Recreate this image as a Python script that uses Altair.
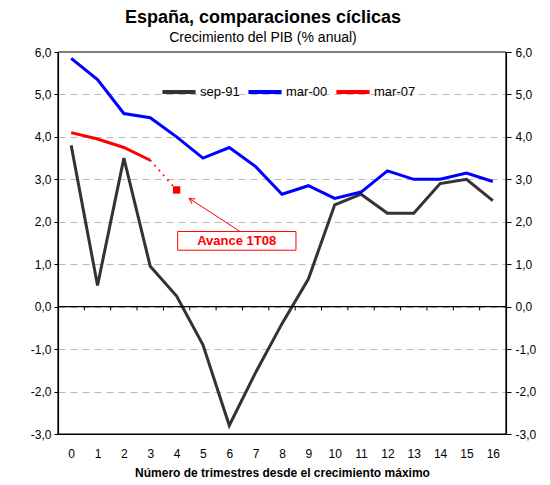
import altair as alt
import pandas as pd

# ---- data ----
quarters = list(range(17))
sep91 = [3.8, 0.5, 3.5, 0.95, 0.25, -0.9, -2.8, -1.55, -0.4, 0.65, 2.4, 2.65, 2.2, 2.2, 2.9, 3.0, 2.5]
mar00 = [5.85, 5.35, 4.55, 4.45, 4.0, 3.5, 3.75, 3.3, 2.65, 2.85, 2.55, 2.7, 3.2, 3.0, 3.0, 3.15, 2.95]
mar07 = [4.1, 3.95, 3.75, 3.45]
adv_x = [3, 4]
adv_y = [3.45, 2.75]
series_names = ["sep-91", "mar-00", "mar-07"]
series_colors = ["#333333", "#0000ff", "#ff0000"]
y_ticks = [-3, -2, -1, 0, 1, 2, 3, 4, 5, 6]
annot_text = "Avance 1T08"
arrow_from = (6.41, 1.77)
arrow_to = (4.48, 2.55)
box = (4.04, 8.53, 1.33, 1.77)
text_pos = (6.28, 1.54)

FONT = "Liberation Sans"
rows = []
for name, vals in zip(series_names, [sep91, mar00, mar07]):
    for q, v in zip(quarters, vals):
        rows.append({"q": q, "v": v, "serie": name})
df = pd.DataFrame(rows)

x_dom = [-0.5, 16.5]
y_dom = [-3, 6]
xscale = alt.Scale(domain=x_dom, nice=False, zero=False)
yscale = alt.Scale(domain=y_dom, nice=False, zero=False)
lab = "replace(replace(format(datum.value, '.1f'), '.', ','), '\u2212', '-')"


def X(field):
    return alt.X(field, scale=xscale, axis=None)


def Y(field):
    return alt.Y(field, scale=yscale, axis=None)


x_main = alt.X("q:Q", scale=xscale,
               axis=alt.Axis(values=quarters, ticks=False, grid=False, domainColor="#000000",
                             domainWidth=1.2,
                             labelFont=FONT, labelFontSize=12, labelColor="#000000",
                             labelPadding=14, labelFlush=False, labelOverlap=False,
                             title="Número de trimestres desde el crecimiento máximo",
                             titleFont=FONT, titleFontSize=12, titleFontWeight="bold",
                             titleColor="#000000", titlePadding=8))
y_left = alt.Y("v:Q", scale=yscale,
               axis=alt.Axis(values=y_ticks, grid=True, gridDash=[7, 5], gridColor="#b8b8b8",
                             domainColor="#000000", domainWidth=1.2, tickColor="#000000", tickSize=4,
                             labelExpr=lab, labelFont=FONT, labelFontSize=12,
                             labelColor="#000000", labelPadding=3, title=None))

lines = alt.Chart(df).mark_line(strokeWidth=3).encode(
    x=x_main, y=y_left,
    color=alt.Color("serie:N", scale=alt.Scale(domain=series_names, range=series_colors),
                    sort=series_names,
                    legend=alt.Legend(orient="none", legendX=102, legendY=21, direction="horizontal",
                                      title=None, symbolType="stroke", symbolSize=1100,
                                      symbolStrokeWidth=4, labelFont=FONT, labelFontSize=13,
                                      labelColor="#000000", labelOffset=2, columnPadding=0,
                                      padding=0)),
)

adv_df = pd.DataFrame({"q": adv_x, "v": adv_y})
dotted = alt.Chart(adv_df).mark_line(color="#ff0000", strokeWidth=2, strokeDash=[1.5, 5]).encode(
    x=X("q:Q"), y=Y("v:Q"))
square = alt.Chart(adv_df.iloc[[1]]).mark_square(color="#ff0000", size=55, opacity=1).encode(
    x=X("q:Q"), y=Y("v:Q"))

top_df = pd.DataFrame({"v": [y_dom[1]]})
top_rule = alt.Chart(top_df).mark_rule(color="#808080", strokeWidth=2).encode(y=Y("v:Q"))
bottom_df = pd.DataFrame({"v": [y_dom[0]]})
bottom_rule = alt.Chart(bottom_df).mark_rule(color="#000000", strokeWidth=1.2).encode(y=Y("v:Q"))
side_df = pd.DataFrame({"q": x_dom})
side_rules = alt.Chart(side_df).mark_rule(color="#000000", strokeWidth=1.2).encode(x=X("q:Q"))
zero_df = pd.DataFrame({"v": [0]})
zero_rule = alt.Chart(zero_df).mark_rule(color="#000000", strokeWidth=1.2).encode(y=Y("v:Q"))
bounds = [q + 0.5 for q in quarters[:-1]]
tick_df = pd.DataFrame({"q": bounds, "v": [0] * len(bounds), "v2": [-0.09] * len(bounds)})
zero_ticks = alt.Chart(tick_df).mark_rule(color="#000000", strokeWidth=1).encode(
    x=X("q:Q"), y=Y("v:Q"), y2="v2:Q")

right_axis = alt.Chart(df).mark_line(opacity=0).encode(
    x=X("q:Q"),
    y=alt.Y("v:Q", scale=yscale,
            axis=alt.Axis(orient="right", values=y_ticks, grid=False, domainColor="#000000",
                          domainWidth=1.2, tickColor="#000000", tickSize=5, labelExpr=lab,
                          labelFont=FONT, labelFontSize=12, labelColor="#000000",
                          labelPadding=4, title=None)))

arrow_df = pd.DataFrame({"x": [arrow_from[0]], "y": [arrow_from[1]],
                         "x2": [arrow_to[0]], "y2": [arrow_to[1]]})
arrow = alt.Chart(arrow_df).mark_rule(color="#ff0000", strokeWidth=1).encode(
    x=X("x:Q"), y=Y("y:Q"), x2="x2:Q", y2="y2:Q")
head_df = pd.DataFrame({"x": [arrow_to[0]], "y": [arrow_to[1]]})
head = alt.Chart(head_df).mark_point(
    shape="M -0.55 1 L 0 0 L 0.55 1", size=110, angle=303.4, filled=False,
    color="#ff0000", strokeWidth=1, opacity=1).encode(x=X("x:Q"), y=Y("y:Q"))
box_df = pd.DataFrame({"x": [box[0]], "x2": [box[1]], "y": [box[2]], "y2": [box[3]]})
box_mark = alt.Chart(box_df).mark_rect(fill="#ffffff", stroke="#ff0000", strokeWidth=1).encode(
    x=X("x:Q"), x2="x2:Q", y=Y("y:Q"), y2="y2:Q")
txt_df = pd.DataFrame({"x": [text_pos[0]], "y": [text_pos[1]], "t": [annot_text]})
txt = alt.Chart(txt_df).mark_text(color="#ff0000", font=FONT, fontSize=13, fontWeight="bold",
                                  align="center", baseline="middle").encode(
    x=X("x:Q"), y=Y("y:Q"), text="t:N")

chart = alt.layer(
    lines, right_axis, top_rule, bottom_rule, side_rules, zero_rule, zero_ticks,
    dotted, square, arrow, head, box_mark, txt
).resolve_scale(y="shared", x="shared").resolve_axis(y="independent", x="independent").properties(
    width=448, height=382,
    autosize=alt.AutoSizeParams(type="none"),
    padding={"left": 50, "top": 44, "right": 36, "bottom": 44},
    title=alt.TitleParams(text="España, comparaciones cíclicas",
                          subtitle="Crecimiento del PIB (% anual)",
                          anchor="middle", dx=-19, offset=1,
                          font=FONT, fontSize=18, fontWeight="bold", color="#000000",
                          subtitleFont=FONT, subtitleFontSize=14, subtitleColor="#000000",
                          subtitlePadding=4),
).configure_view(stroke=None).configure(background="#ffffff")

chart.save("out.html", embed_options={"renderer": "svg", "actions": False})
